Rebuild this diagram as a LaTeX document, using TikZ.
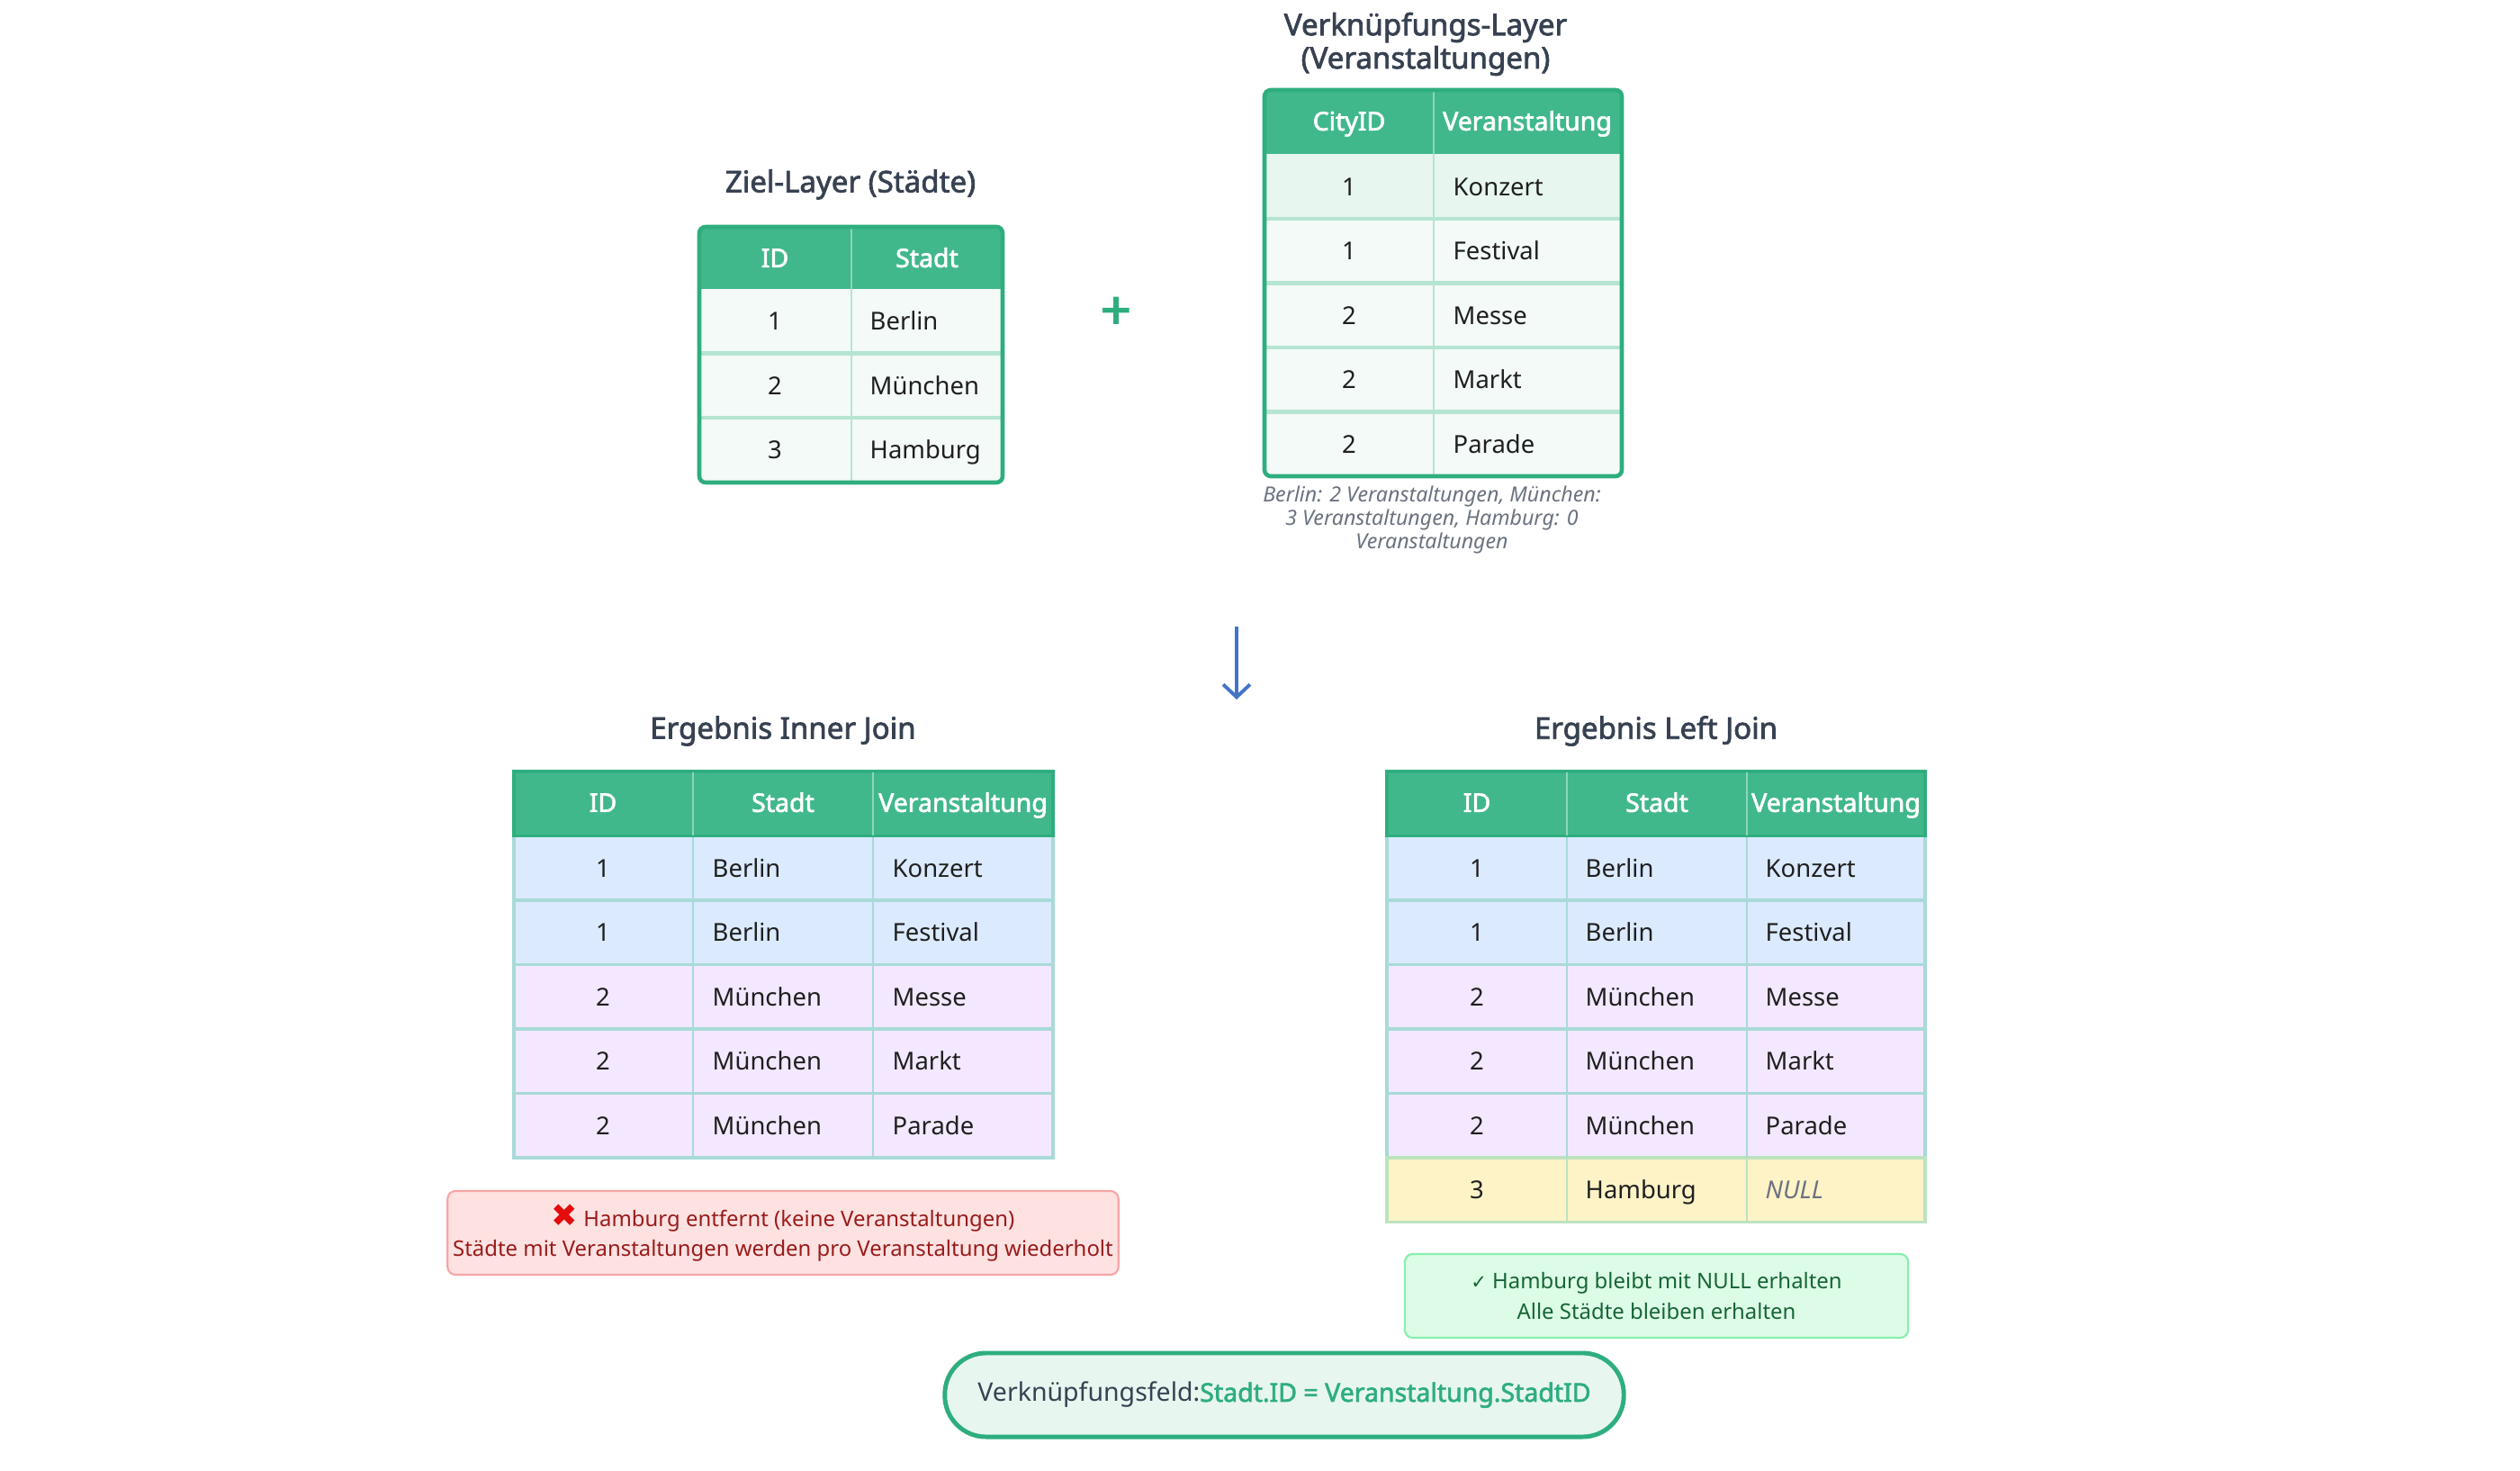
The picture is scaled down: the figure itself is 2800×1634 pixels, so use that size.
\documentclass[tikz,border=0pt]{standalone}
\usepackage{fontspec}
\setmainfont{Noto Sans}[AutoFakeBold=2.2]
\newfontfamily\symfont{DejaVu Sans}
\usetikzlibrary{arrows.meta}
\definecolor{joingreen}{RGB}{46,174,126}
\definecolor{headgreen}{RGB}{65,184,140}
\definecolor{headline}{RGB}{140,214,186}
\definecolor{rowmint}{RGB}{243,250,247}
\definecolor{rowmintdk}{RGB}{231,246,239}
\definecolor{sepmint}{RGB}{181,229,210}
\definecolor{rowblue}{RGB}{219,234,254}
\definecolor{rowlilac}{RGB}{243,232,255}
\definecolor{rowyellow}{RGB}{254,243,199}
\definecolor{septeal}{RGB}{168,218,216}
\definecolor{sepsage}{RGB}{188,227,190}
\definecolor{slate}{RGB}{55,65,81}
\definecolor{nullgrey}{RGB}{107,114,128}
\definecolor{warnred}{RGB}{153,27,27}
\definecolor{warnx}{RGB}{228,12,12}
\definecolor{warnfill}{RGB}{254,226,226}
\definecolor{warnline}{RGB}{248,164,164}
\definecolor{okgreen}{RGB}{22,101,52}
\definecolor{okfill}{RGB}{220,252,231}
\definecolor{okline}{RGB}{134,239,172}
\definecolor{flowblue}{RGB}{66,116,200}
\definecolor{pillfill}{RGB}{232,246,240}

\begin{document}
\begin{tikzpicture}[x=0.01cm, y=-0.01cm,
    cell/.style={inner sep=0pt, text height=5.6pt, text depth=0pt,
      font=\fontsize{7.8}{9}\selectfont, text=black!88},
    headcell/.style={cell, text=white, font=\fontsize{8.1}{9}\selectfont\bfseries},
    tabtitle/.style={inner sep=0pt, align=center, text=slate,
      font=\fontsize{9.4}{10.5}\selectfont\bfseries},
    notebox/.style={rounded corners=2.5pt, line width=0.6pt, align=center,
      inner sep=0pt, font=\fontsize{6.8}{9.6}\selectfont}]
  \useasboundingbox (0,0) rectangle (2800,1634);

  % Ziel-Layer (left source table)
  \node[tabtitle] (zieltitle) at (945,205) {Ziel-Layer (Städte)};
  \fill[rowmint] (777,321) rectangle (1114,536);
  \fill[headgreen] (777,252) rectangle (1114,321);
  \foreach \y in {392.5,464}{
    \draw[sepmint, line width=1.4pt] (777,\y) -- (1114,\y);
  }
  \draw[headline, line width=0.5pt] (946,252) -- (946,321);
  \draw[sepmint, line width=0.6pt] (946,321) -- (946,536);
  \draw[joingreen, line width=1.3pt, rounded corners=2pt] (777,252) rectangle (1114,536);
  \node[headcell] (zl-id) at (861,287) {ID};
  \node[headcell] (zl-stadt) at (1030,287) {Stadt};
  \foreach \n/\stadt [count=\i] in {1/Berlin,2/München,3/Hamburg}{
    \node[cell] (zl-id\i) at (861,{285.25+71.5*\i}) {\n};
    \node[cell, anchor=west] (zl-stadt\i) at (966,{285.25+71.5*\i}) {\stadt};
  }

  % Plus sign
  \node[inner sep=0pt, text=joingreen, font=\fontsize{17}{17}\selectfont\bfseries]
    (plus) at (1240,348) {+};

  % Verknuepfungs-Layer (right source table)
  \node[tabtitle] (linktitle) at (1584,49) {Verknüpfungs-Layer\\(Veranstaltungen)};
  \fill[rowmint] (1405,171.5) rectangle (1802,529);
  \fill[rowmintdk] (1405,171.5) rectangle (1802,243);
  \fill[headgreen] (1405,100) rectangle (1802,171.5);
  \foreach \y in {243,314.5,386,457.5}{
    \draw[sepmint, line width=1.4pt] (1405,\y) -- (1802,\y);
  }
  \draw[headline, line width=0.5pt] (1593,100) -- (1593,171.5);
  \draw[sepmint, line width=0.6pt] (1593,171.5) -- (1593,529);
  \draw[joingreen, line width=1.3pt, rounded corners=2pt] (1405,100) rectangle (1802,529);
  \node[headcell] (vl-city) at (1499,135) {CityID};
  \node[headcell] (vl-event) at (1697,135) {Veranstaltung};
  \foreach \n/\event [count=\i] in {1/Konzert,1/Festival,2/Messe,2/Markt,2/Parade}{
    \node[cell] (vl-city\i) at (1499,{135.75+71.5*\i}) {\n};
    \node[cell, anchor=west] (vl-event\i) at (1614,{135.75+71.5*\i}) {\event};
  }
  \node[inner sep=0pt, align=center, text=nullgrey,
        font=\fontsize{6.6}{7.4}\selectfont\itshape] (linknote) at (1591,577)
    {Berlin: 2 Veranstaltungen, München:\\3 Veranstaltungen, Hamburg: 0\\Veranstaltungen};

  % Flow arrow
  \coordinate (flowtop) at (1374,696);
  \coordinate (flowbot) at (1374,777);
  \draw[flowblue, line width=1.1pt, -{Straight Barb[length=4pt, width=8.5pt]}]
    (flowtop) -- (flowbot);

  % Ergebnis Inner Join
  \node[tabtitle] (innertitle) at (870,812) {Ergebnis Inner Join};
  \foreach \n/\stadt/\event/\rowcol [count=\i] in
      {1/Berlin/Konzert/rowblue,1/Berlin/Festival/rowblue,2/München/Messe/rowlilac,
       2/München/Markt/rowlilac,2/München/Parade/rowlilac}{
    \filldraw[fill=\rowcol, draw=septeal, line width=1.1pt]
      (571,{857+71.5*\i}) rectangle (1170,{928.5+71.5*\i});
    \node[cell] (ij-id\i) at (670,{892.75+71.5*\i}) {\n};
    \node[cell, anchor=west] (ij-stadt\i) at (791,{892.75+71.5*\i}) {\stadt};
    \node[cell, anchor=west] (ij-event\i) at (991,{892.75+71.5*\i}) {\event};
  }
  \draw[septeal, line width=0.6pt] (770,928.5) -- (770,1286) (970,928.5) -- (970,1286);
  \filldraw[fill=headgreen, draw=joingreen, line width=0.9pt] (571,857) rectangle (1170,928.5);
  \draw[headline, line width=0.5pt] (770,858) -- (770,928) (970,858) -- (970,928);
  \node[headcell] (ij-id) at (670,892) {ID};
  \node[headcell] (ij-stadt) at (870,892) {Stadt};
  \node[headcell] (ij-event) at (1070,892) {Veranstaltung};
  \node[notebox, draw=warnline, fill=warnfill, text=warnred,
        minimum width=7.45cm, minimum height=0.93cm] (innernote) at (870,1369.5)
    {{\fontsize{10}{9}\symfont\bfseries\textcolor{warnx}{✖}}~Hamburg entfernt (keine Veranstaltungen)\\
     Städte mit Veranstaltungen werden pro Veranstaltung wiederholt};

  % Ergebnis Left Join
  \node[tabtitle] (lefttitle) at (1840,812) {Ergebnis Left Join};
  \foreach \n/\stadt/\event/\rowcol [count=\i] in
      {1/Berlin/Konzert/rowblue,1/Berlin/Festival/rowblue,2/München/Messe/rowlilac,
       2/München/Markt/rowlilac,2/München/Parade/rowlilac}{
    \filldraw[fill=\rowcol, draw=septeal, line width=1.1pt]
      (1541,{857+71.5*\i}) rectangle (2139,{928.5+71.5*\i});
    \node[cell] (lj-id\i) at (1641,{892.75+71.5*\i}) {\n};
    \node[cell, anchor=west] (lj-stadt\i) at (1761,{892.75+71.5*\i}) {\stadt};
    \node[cell, anchor=west] (lj-event\i) at (1961,{892.75+71.5*\i}) {\event};
  }
  \filldraw[fill=rowyellow, draw=sepsage, line width=1.1pt] (1541,1286) rectangle (2139,1357.5);
  \node[cell] (lj-id6) at (1641,1321.75) {3};
  \node[cell, anchor=west] (lj-stadt6) at (1761,1321.75) {Hamburg};
  \node[cell, anchor=west, text=nullgrey, font=\fontsize{7.8}{9}\selectfont\itshape]
    (lj-event6) at (1961,1321.75) {NULL};
  \draw[septeal, line width=0.6pt] (1741,928.5) -- (1741,1286) (1941,928.5) -- (1941,1286);
  \draw[sepsage, line width=0.6pt] (1741,1286) -- (1741,1357.5) (1941,1286) -- (1941,1357.5);
  \filldraw[fill=headgreen, draw=joingreen, line width=0.9pt] (1541,857) rectangle (2139,928.5);
  \draw[headline, line width=0.5pt] (1741,858) -- (1741,928) (1941,858) -- (1941,928);
  \node[headcell] (lj-id) at (1641,892) {ID};
  \node[headcell] (lj-stadt) at (1841,892) {Stadt};
  \node[headcell] (lj-event) at (2040,892) {Veranstaltung};
  \node[notebox, draw=okline, fill=okfill, text=okgreen,
        minimum width=5.59cm, minimum height=0.93cm] (leftnote) at (1840.5,1439.5)
    {{\fontsize{6}{9}\symfont ✓}~Hamburg bleibt mit NULL erhalten\\Alle Städte bleiben erhalten};

  % Join key
  \node[draw=joingreen, fill=pillfill, line width=1.4pt, rounded corners=13pt,
        minimum width=7.54cm, minimum height=0.93cm, inner sep=0pt, text=slate,
        font=\fontsize{8.1}{9}\selectfont] (joinkey) at (1427,1549.5)
    {Verknüpfungsfeld:\textcolor{joingreen}{\bfseries Stadt.ID = Veranstaltung.StadtID}};
\end{tikzpicture}
\end{document}
